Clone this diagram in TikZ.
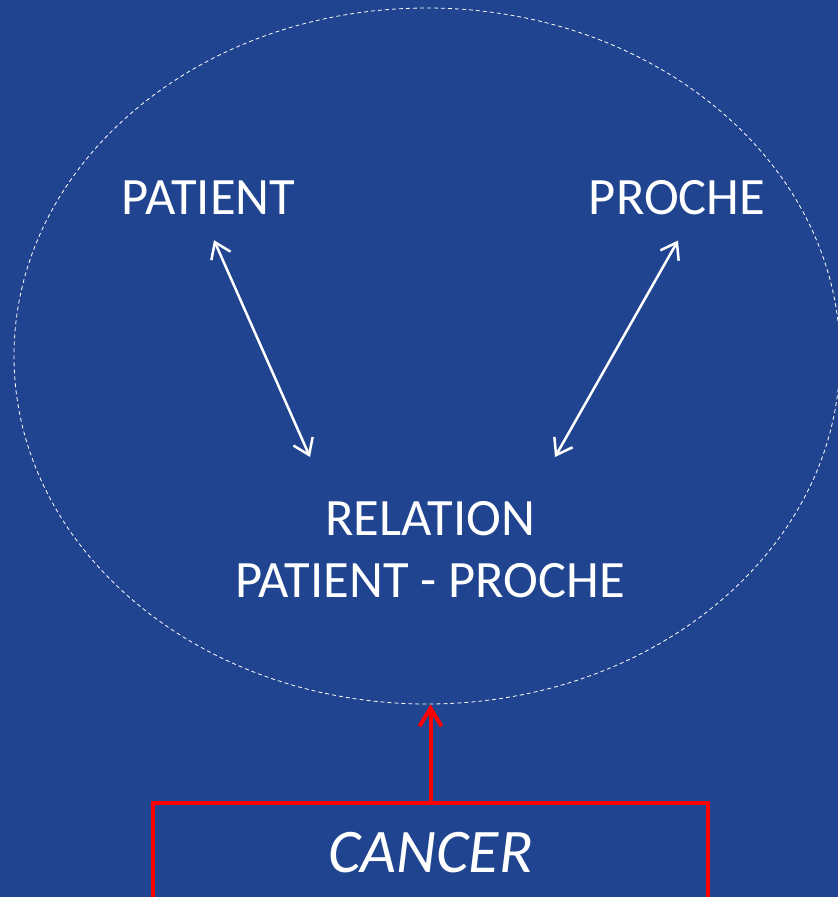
\documentclass[tikz,border=0pt]{standalone}
\usepackage{fontspec}
\setmainfont{Carlito}
\usepackage{tikz}
\usetikzlibrary{positioning, shapes.geometric, arrows.meta}
\usepackage{xcolor}
\definecolor{bgblue}{RGB}{32,68,143}
\definecolor{cancerred}{RGB}{255,0,0}

\tikzset{
  label-text/.style={text=white, inner sep=0pt, font=\fontsize{52.5}{62}\selectfont, align=center},
  link/.style={draw=white, line width=2.5pt, {Straight Barb[length=15pt,width=21pt]}-{Straight Barb[length=15pt,width=21pt]}},
  trigger/.style={draw=cancerred, line width=4pt, -{Straight Barb[length=18pt,width=22pt]}}
}

\begin{document}
\begin{tikzpicture}[x=1pt, y=-1pt]
%
%%% background and frame
\fill [bgblue] (0,0) rectangle (838,897);
\useasboundingbox (0,0) rectangle (838,897);

%%% nodes and boxes

%%% SURROUNDING
\node [ellipse, draw=white, dash pattern=on 4pt off 3pt, line width=0.8pt, minimum width=826pt, minimum height=696pt, inner sep=0pt] (circle) at (427,356) {};

%%% PATIENT / PROCHE
\node [label-text, anchor=base] (patient) at (208.5,214) {PATIENT};
\node [label-text, anchor=base] (proche) at (677,214) {PROCHE};

%%% RELATION
\node [label-text, anchor=north] (relation) at (430,501) {RELATION\\ PATIENT - PROCHE};

%%% CANCER
\node [rectangle, draw=cancerred, line width=4pt, text=white, minimum width=555pt, minimum height=100pt, inner sep=0pt, font=\fontsize{62}{72}\selectfont\itshape] (cancer) at (430.5,853) {CANCER};

%%% connections, arrows
\draw [link] ([shift={(5.5,26)}]patient.south) -- ([shift={(-120,-44)}]relation.north);
\draw [link] ([shift={(1,26)}]proche.south) -- ([shift={(125,-44)}]relation.north);
\draw [trigger] (cancer.north) -- (cancer.north |- circle.south);

\end{tikzpicture}
\end{document}
